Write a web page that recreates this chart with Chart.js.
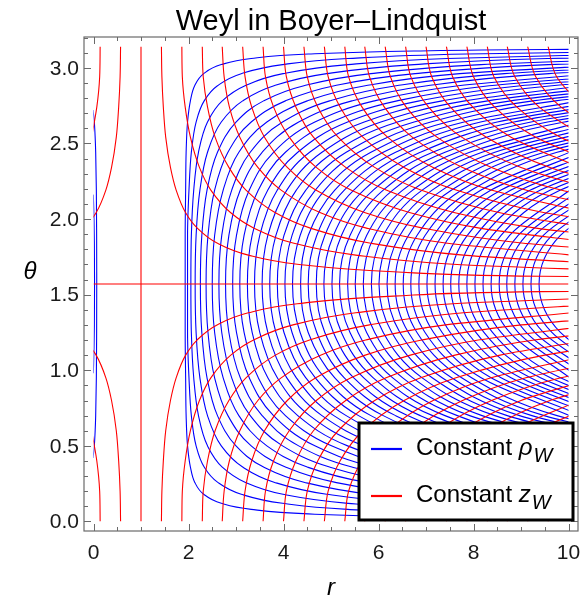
<!DOCTYPE html>
<html>
<head>
<meta charset="utf-8">
<script src="https://cdn.jsdelivr.net/npm/chart.js@4.4.0/dist/chart.umd.min.js"></script>
<style>
  html, body { margin: 0; padding: 0; background: #fff; }
  canvas { display: block; }
</style>
</head>
<body>
<canvas id="weylChart" width="582" height="601"></canvas>
<script>
// theta samples for the constant-rho curves (symmetric about the equator, index 13)
const thetaGrid = [0.01, 0.02, 0.03, 0.05, 0.08, 0.12, 0.18, 0.26, 0.36, 0.5, 0.7, 0.95, 1.25, 1.5708,
  1.8916, 2.1916, 2.4416, 2.6416, 2.7816, 2.8816, 2.9616, 3.0216, 3.0616, 3.0916, 3.1116, 3.1216, 3.1316];
const EQ = 13;

// outer constant-rho curves: r at the last n samples of thetaGrid up to the equator
const rhoHalves = [
  [18.02, 9.55, 6.74, 4.52, 3.32, 2.69, 2.32, 2.13, 2.04, 1.98, 1.95, 1.94, 1.93, 1.93],
  [12.37, 7.86, 5.35, 3.98, 3.11, 2.61, 2.33, 2.16, 2.06, 2.01, 1.98, 1.98],
  [11.25, 7.45, 5.36, 3.99, 3.19, 2.71, 2.40, 2.21, 2.11, 2.06, 2.05],
  [14.63, 9.56, 6.75, 4.91, 3.80, 3.14, 2.69, 2.40, 2.24, 2.16, 2.14],
  [11.68, 8.16, 5.84, 4.43, 3.58, 3.00, 2.61, 2.39, 2.28, 2.25],
  [13.80, 9.57, 6.77, 5.07, 4.04, 3.32, 2.83, 2.55, 2.41, 2.37],
  [10.99, 7.71, 5.72, 4.50, 3.65, 3.06, 2.73, 2.55, 2.50],
  [12.40, 8.65, 6.37, 4.97, 3.98, 3.30, 2.91, 2.70, 2.64],
  [13.81, 9.59, 7.02, 5.44, 4.32, 3.55, 3.09, 2.85, 2.78],
  [10.54, 7.68, 5.91, 4.66, 3.79, 3.28, 3.01, 2.93],
  [11.49, 8.33, 6.39, 5.01, 4.04, 3.47, 3.17, 3.08],
  [12.43, 8.99, 6.86, 5.35, 4.30, 3.67, 3.34, 3.24],
  [13.38, 9.65, 7.34, 5.70, 4.55, 3.87, 3.50, 3.39],
  [10.30, 7.82, 6.05, 4.81, 4.07, 3.67, 3.55],
  [10.96, 8.30, 6.40, 5.06, 4.27, 3.84, 3.71],
  [11.62, 8.78, 6.75, 5.32, 4.47, 4.01, 3.87],
  [12.28, 9.25, 7.10, 5.58, 4.67, 4.18, 4.03],
  [12.94, 9.73, 7.45, 5.84, 4.87, 4.35, 4.19],
  [10.21, 7.80, 6.10, 5.08, 4.52, 4.36],
  [10.70, 8.15, 6.36, 5.28, 4.70, 4.52],
  [11.18, 8.50, 6.62, 5.48, 4.87, 4.69],
  [11.66, 8.85, 6.88, 5.69, 5.05, 4.85],
  [12.14, 9.21, 7.14, 5.89, 5.22, 5.02],
  [12.62, 9.56, 7.40, 6.10, 5.40, 5.18],
  [13.10, 9.91, 7.66, 6.30, 5.57, 5.35],
  [10.26, 7.92, 6.51, 5.75, 5.51],
  [10.62, 8.18, 6.72, 5.92, 5.68],
  [10.97, 8.45, 6.92, 6.10, 5.85],
  [11.32, 8.71, 7.13, 6.28, 6.01],
  [11.68, 8.97, 7.34, 6.45, 6.18],
  [12.03, 9.23, 7.54, 6.63, 6.35],
  [12.38, 9.49, 7.75, 6.81, 6.52],
  [12.74, 9.76, 7.96, 6.98, 6.68],
  [10.02, 8.16, 7.16, 6.85],
  [10.28, 8.37, 7.34, 7.02],
  [10.54, 8.58, 7.51, 7.19],
  [10.81, 8.79, 7.69, 7.36],
  [11.07, 8.99, 7.87, 7.52],
  [11.33, 9.20, 8.05, 7.69],
  [11.60, 9.41, 8.22, 7.86],
  [11.86, 9.62, 8.40, 8.03],
  [12.12, 9.83, 8.58, 8.20],
  [10.03, 8.76, 8.37],
  [10.24, 8.94, 8.54],
  [10.45, 9.11, 8.70],
  [10.66, 9.29, 8.87],
  [10.87, 9.47, 9.04],
  [11.07, 9.65, 9.21],
  [11.28, 9.83, 9.38]
];

// the two small constant-rho curves inside r < 0.1
const rhoInnerTheta = [
  [0.42, 0.5, 0.6, 0.7, 0.95, 1.25, 1.5708, 1.8916, 2.1916, 2.4416, 2.5416, 2.6416, 2.7216],
  [0.98, 1.05, 1.15, 1.3, 1.5708, 1.8416, 1.9916, 2.0916, 2.1616]
];
const rhoInnerR = [
  [-0.01, 0.017, 0.035, 0.046, 0.060, 0.066, 0.068, 0.066, 0.060, 0.046, 0.035, 0.017, -0.01],
  [-0.004, 0.003, 0.011, 0.018, 0.022, 0.018, 0.011, 0.003, -0.004]
];

// constant-z curves: r at zTheta (lower half), mirrored onto zThetaMirror (upper half)
const zTheta = [0, 0.2, 0.4, 0.6, 0.8, 0.95, 1.1, 1.2, 1.3, 1.38, 1.44, 1.49, 1.52, 1.55];
const zThetaMirror = [3.1416, 2.9416, 2.7416, 2.5416, 2.3416, 2.1916, 2.0416, 1.9416, 1.8416, 1.7616, 1.7016, 1.6516, 1.6216, 1.5916];
const zCurves = [
  [1.43, 1.44, 1.47, 1.52, 1.62, 1.74, 1.94, 2.18, 2.60, 3.26, 4.29, 6.31, 9.44, 21.6],
  [1.86, 1.87, 1.93, 2.04, 2.23, 2.47, 2.89, 3.37, 4.20, 5.52, 7.57, 11.62],
  [2.29, 2.31, 2.40, 2.56, 2.85, 3.21, 3.83, 4.55, 5.81, 7.79, 10.86],
  [2.71, 2.75, 2.86, 3.08, 3.46, 3.95, 4.78, 5.73, 7.41, 10.05],
  [3.14, 3.19, 3.33, 3.60, 4.08, 4.68, 5.72, 6.91, 9.01, 12.31],
  [3.57, 3.62, 3.79, 4.12, 4.69, 5.42, 6.67, 8.10, 10.61],
  [4.00, 4.06, 4.26, 4.63, 5.31, 6.16, 7.61, 9.28, 12.22],
  [4.43, 4.50, 4.72, 5.15, 5.92, 6.89, 8.56, 10.46],
  [4.86, 4.94, 5.19, 5.67, 6.54, 7.63, 9.50, 11.64],
  [5.29, 5.37, 5.65, 6.19, 7.15, 8.37, 10.45],
  [5.71, 5.81, 6.12, 6.71, 7.77, 9.10, 11.39],
  [6.14, 6.25, 6.58, 7.23, 8.38, 9.84, 12.34],
  [6.57, 6.68, 7.05, 7.75, 9.00, 10.58],
  [7.00, 7.12, 7.51, 8.27, 9.61, 11.31],
  [7.43, 7.56, 7.98, 8.79, 10.23],
  [7.86, 8.00, 8.44, 9.31, 10.84],
  [8.29, 8.43, 8.91, 9.83, 11.46],
  [8.71, 8.87, 9.38, 10.35],
  [9.14, 9.31, 9.84, 10.87],
  [9.57, 9.75, 10.31],
  [0.57, 0.56, 0.53, 0.48, 0.38, 0.26, 0.055, -0.18],
  [0.14, 0.13, 0.07, -0.04]
];
// z = 0 is the pair of straight lines r = 1 and theta = pi/2
const zZeroR = [[1, 1], [0, 10]];
const zZeroTheta = [[0, 3.1416], [1.5708, 1.5708]];

const xMajorTicks = [0, 2, 4, 6, 8, 10];
const xMinorTicks = [0.5, 1, 1.5, 2.5, 3, 3.5, 4.5, 5, 5.5, 6.5, 7, 7.5, 8.5, 9, 9.5];
const yMajorTicks = [0, 0.5, 1, 1.5, 2, 2.5, 3];
const yTickLabels = ['0.0', '0.5', '1.0', '1.5', '2.0', '2.5', '3.0'];
const yMinorTicks = [0.1, 0.2, 0.3, 0.4, 0.6, 0.7, 0.8, 0.9, 1.1, 1.2, 1.3, 1.4, 1.6, 1.7, 1.8, 1.9,
  2.1, 2.2, 2.3, 2.4, 2.6, 2.7, 2.8, 2.9, 3.1, 3.2];

const BLUE = '#0000ff';
const RED = '#ff0000';
const FONT = '"Liberation Sans", Arial, sans-serif';

const datasets = [];
function addCurve(points, color, straight) {
  datasets.push({
    data: points,
    borderColor: color,
    borderWidth: 1.1,
    pointRadius: 0,
    fill: false,
    tension: 0,
    cubicInterpolationMode: straight ? 'default' : 'monotone'
  });
}

// red first so it sits above the blue
zCurves.forEach(r => {
  addCurve(r.map((v, i) => ({ x: v, y: zTheta[i] })), RED);
  addCurve(r.map((v, i) => ({ x: v, y: zThetaMirror[i] })).reverse(), RED);
});
zZeroR.forEach((r, k) => addCurve(r.map((v, i) => ({ x: v, y: zZeroTheta[k][i] })), RED, true));

rhoHalves.forEach(half => {
  const n = half.length;
  const pts = [];
  for (let i = 0; i < n; i++) pts.push({ x: half[i], y: thetaGrid[EQ - n + 1 + i] });
  for (let i = n - 2; i >= 0; i--) pts.push({ x: half[i], y: thetaGrid[EQ + n - 1 - i] });
  addCurve(pts, BLUE);
});
rhoInnerR.forEach((r, k) => addCurve(r.map((v, i) => ({ x: v, y: rhoInnerTheta[k][i] })), BLUE));

// curves only live on 0 <= r <= 10, 0 <= theta <= pi
const domainClip = {
  id: 'domainClip',
  beforeDatasetsDraw(chart) {
    const { ctx, scales: { x, y } } = chart;
    const l = x.getPixelForValue(0), r = x.getPixelForValue(10);
    const t = y.getPixelForValue(Math.PI), b = y.getPixelForValue(0);
    ctx.save();
    ctx.beginPath();
    ctx.rect(l, t, r - l, b - t);
    ctx.clip();
  },
  afterDatasetsDraw(chart) {
    chart.ctx.restore();
  }
};

// frame with inward ticks, labels, title and legend
const frame = {
  id: 'frame',
  afterDraw(chart) {
    const { ctx, chartArea: a, scales: { x, y } } = chart;
    ctx.save();
    ctx.strokeStyle = '#6a6a6a';
    ctx.lineWidth = 1.2;
    ctx.strokeRect(a.left, a.top, a.right - a.left, a.bottom - a.top);

    const seg = (x1, y1, x2, y2) => { ctx.beginPath(); ctx.moveTo(x1, y1); ctx.lineTo(x2, y2); ctx.stroke(); };
    const xTick = (v, len) => {
      const p = Math.round(x.getPixelForValue(v)) + 0.5;
      seg(p, a.bottom, p, a.bottom - len);
      seg(p, a.top, p, a.top + len);
    };
    const yTick = (v, len) => {
      const p = Math.round(y.getPixelForValue(v)) + 0.5;
      seg(a.left, p, a.left + len, p);
      seg(a.right, p, a.right - len, p);
    };
    ctx.lineWidth = 1;
    xMajorTicks.forEach(v => xTick(v, 7));
    xMinorTicks.forEach(v => xTick(v, 4));
    yMajorTicks.forEach(v => yTick(v, 7));
    yMinorTicks.forEach(v => yTick(v, 4));

    ctx.fillStyle = '#1a1a1a';
    ctx.font = '21px ' + FONT;
    ctx.textAlign = 'center';
    ctx.textBaseline = 'middle';
    xMajorTicks.forEach(v => ctx.fillText(String(v), x.getPixelForValue(v), a.bottom + 22));
    ctx.textAlign = 'right';
    yMajorTicks.forEach((v, i) => ctx.fillText(yTickLabels[i], a.left - 5, y.getPixelForValue(v) + 1));

    const cx = (a.left + a.right) / 2;
    ctx.fillStyle = '#000';
    ctx.textAlign = 'center';
    ctx.textBaseline = 'alphabetic';
    ctx.font = '29px ' + FONT;
    ctx.fillText('Weyl in Boyer\u2013Lindquist', cx, 30);

    ctx.font = 'italic 24px ' + FONT;
    ctx.textBaseline = 'middle';
    ctx.fillText('r', cx, 588);
    ctx.fillText('\u03b8', 30, 272);

    // legend
    const box = { l: 359, t: 423, r: 573, b: 520 };
    ctx.fillStyle = '#fff';
    ctx.fillRect(box.l, box.t, box.r - box.l, box.b - box.t);
    ctx.strokeStyle = '#000';
    ctx.lineWidth = 3;
    ctx.strokeRect(box.l, box.t, box.r - box.l, box.b - box.t);

    const entries = [
      { color: BLUE, sym: '\u03c1', y: 449 },
      { color: RED, sym: 'z', y: 496 }
    ];
    entries.forEach(e => {
      ctx.strokeStyle = e.color;
      ctx.lineWidth = 2.2;
      seg(371, e.y, 402, e.y);
      ctx.fillStyle = '#000';
      ctx.textAlign = 'left';
      ctx.textBaseline = 'alphabetic';
      let tx = 416;
      const base = e.y + 6;
      ctx.font = '24px ' + FONT;
      ctx.fillText('Constant ', tx, base);
      tx += ctx.measureText('Constant ').width;
      ctx.font = 'italic 24px ' + FONT;
      ctx.fillText(e.sym, tx, base);
      tx += ctx.measureText(e.sym).width + 1;
      ctx.font = 'italic 20px ' + FONT;
      ctx.fillText('W', tx, base + 7);
    });
    ctx.restore();
  }
};

new Chart(document.getElementById('weylChart').getContext('2d'), {
  type: 'line',
  data: { datasets },
  options: {
    indexAxis: 'y',
    responsive: false,
    animation: false,
    events: [],
    layout: { padding: { left: 84, right: 4, top: 37, bottom: 70 } },
    scales: {
      x: { type: 'linear', min: -0.2, max: 10.2, display: false },
      y: { type: 'linear', min: -0.063, max: 3.204, display: false }
    },
    plugins: {
      legend: { display: false },
      tooltip: { enabled: false }
    }
  },
  plugins: [domainClip, frame]
});
</script>
</body>
</html>
